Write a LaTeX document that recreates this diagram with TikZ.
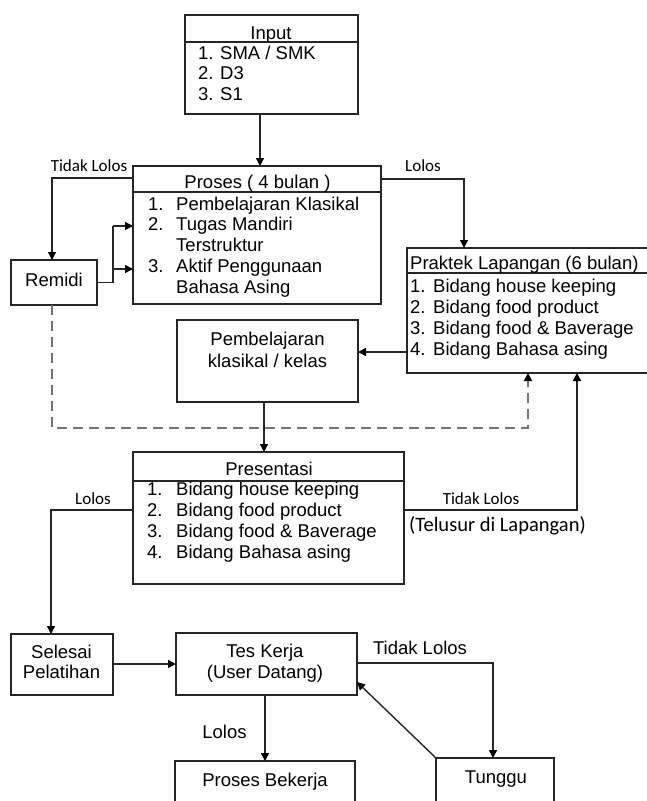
\documentclass[tikz,border=0pt]{standalone}
\usepackage{fontspec}
\setmainfont{Liberation Sans}
\newfontfamily\carl{Carlito}
\usetikzlibrary{arrows.meta}
\begin{document}
\begin{tikzpicture}[x=1pt,y=-1pt,
  box/.style={draw=black!85,line width=1.4pt,inner sep=0pt,outer sep=0pt,anchor=north west},
  ln/.style={draw=black!85,line width=1.4pt},
  arr/.style={ln,-{Triangle[length=8pt,width=8pt,color=black]}},
  dsh/.style={draw=black!55,line width=2.3pt,dash pattern=on 10pt off 6pt,-{Triangle[length=8pt,width=8pt,color=black]}},
  txt/.style={inner sep=0pt,font=\fontsize{18.5}{20.7}\selectfont},
  lbl/.style={inner sep=0pt,font=\carl\fontsize{17}{20}\selectfont},
]
\useasboundingbox (0,0) rectangle (647,801);
\clip (0,0) rectangle (647,801);

% boxes
\node[box,minimum width=173pt,minimum height=99pt] (inp) at (185,15) {};
\node[box,minimum width=248pt,minimum height=138pt] (pro) at (133,166) {};
\node[box,minimum width=86pt,minimum height=45pt] (rem) at (11,260) {};
\node[box,minimum width=250pt,minimum height=125pt] (pra) at (407,248) {};
\node[box,minimum width=181pt,minimum height=82pt] (pem) at (177,320) {};
\node[box,minimum width=271pt,minimum height=132pt] (pre) at (133,452) {};
\node[box,minimum width=102pt,minimum height=61pt] (sel) at (11,634) {};
\node[box,minimum width=181pt,minimum height=62pt] (tes) at (176,633) {};
\node[box,minimum width=180pt,minimum height=60pt] (pbk) at (175,761) {};
\node[box,minimum width=118pt,minimum height=60pt] (tun) at (436,758) {};

% dividers
\draw[ln] (inp.west |- 0,42) -- (inp.east |- 0,42);
\draw[ln] (pro.west |- 0,192) -- (pro.east |- 0,192);
\draw[ln] (pra.west |- 0,273) -- (pra.east |- 0,273);
\draw[ln] (pre.west |- 0,481) -- (pre.east |- 0,481);

% texts
\node[txt,anchor=base] (tinp) at (271,39) {Input};
\node[txt,anchor=base west] (linp) at (198,59) {\fontsize{18.5}{20.5}\selectfont\begin{tabular}[t]{@{}p{22pt}@{}l@{}}1.&SMA / SMK\\2.&D3\\3.&S1\end{tabular}};

\node[txt,anchor=base] (tpro) at (257.5,188) {Proses ( 4 bulan )};
\node[txt,anchor=base west] (lpro) at (148,210) {\fontsize{18.5}{20.75}\selectfont\begin{tabular}[t]{@{}p{28pt}@{}l@{}}1.&Pembelajaran Klasikal\\2.&Tugas Mandiri\\&Terstruktur\\3.&Aktif Penggunaan\\&Bahasa Asing\end{tabular}};

\node[txt,anchor=base west] (tpra) at (410,269) {Praktek Lapangan (6 bulan)};
\node[txt,anchor=base west] (lpra) at (410,292) {\fontsize{18.5}{21}\selectfont\begin{tabular}[t]{@{}p{23pt}@{}l@{}}1.&Bidang house keeping\\2.&Bidang food product\\3.&Bidang food \& Baverage\\4.&Bidang Bahasa asing\end{tabular}};

\node[txt,anchor=base] (tpem) at (267.5,345) {\fontsize{18.5}{22}\selectfont\begin{tabular}[t]{@{}c@{}}Pembelajaran\\klasikal / kelas\end{tabular}};

\node[txt,anchor=base] (tpre) at (269,475) {Presentasi};
\node[txt,anchor=base west] (lpre) at (147,495) {\fontsize{18.5}{21}\selectfont\begin{tabular}[t]{@{}p{29pt}@{}l@{}}1.&Bidang house keeping\\2.&Bidang food product\\3.&Bidang food \& Baverage\\4.&Bidang Bahasa asing\end{tabular}};

\node[txt,anchor=base] (trem) at (54,286) {Remidi};
\node[txt,anchor=base] (tsel) at (61.5,658) {\fontsize{18.5}{20}\selectfont\begin{tabular}[t]{@{}c@{}}Selesai\\Pelatihan\end{tabular}};
\node[txt,anchor=base] (ttes) at (265,657) {\fontsize{18.5}{21}\selectfont\begin{tabular}[t]{@{}c@{}}Tes Kerja\\(User Datang)\end{tabular}};
\node[txt,anchor=base] (tpbk) at (265,786) {Proses Bekerja};
\node[txt,anchor=base] (ttun) at (496,783) {Tunggu};

% labels
\node[lbl,anchor=base] (l1) at (89,171) {Tidak Lolos};
\node[lbl,anchor=base] (l2) at (423,171) {Lolos};
\node[lbl,anchor=base] (l3) at (93,504) {Lolos};
\node[lbl,anchor=base] (l4) at (481,504) {Tidak Lolos};
\node[lbl,font=\carl\fontsize{20.5}{24}\selectfont,anchor=base] (l5) at (497.5,531) {(Telusur di Lapangan)};
\node[txt,anchor=base] (l6) at (420,654) {Tidak Lolos};
\node[txt,anchor=base] (l7) at (224.5,738) {Lolos};

% connectors
\draw[arr] (inp.south -| 260,0) -- (pro.north -| 260,0);
\draw[arr] (pro.west |- 0,178) -| (rem.north -| 52,0);
\coordinate (rj) at (113,282.5);
\draw[ln] (rem.east) -- (rj) -- (rj |- 0,226);
\draw[arr] (rj |- 0,226) -- (pro.west |- 0,226);
\draw[arr] (rj |- 0,269) -- (pro.west |- 0,269);
\draw[arr] (pro.east |- 0,179) -| (pra.north -| 464,0);
\draw[arr] (pra.west |- 0,352) -- (pem.east |- 0,352);
\draw[arr] (pem.south -| 264,0) -- (pre.north -| 264,0);
\coordinate (d1) at (52,428);
\draw[dsh] (rem.south -| d1) -- (d1) -| (pra.south -| 528,0);
\draw[arr] (pre.east |- 0,510) -| (pra.south -| 577,0);
\draw[arr] (pre.west |- 0,510) -| (sel.north -| 51,0);
\draw[arr] (sel.east |- 0,664) -- (tes.west |- 0,664);
\draw[arr] (tes.south -| 265,0) -- (pbk.north -| 265,0);
\draw[arr] (tes.east |- 0,663) -| (tun.north -| 493,0);
\draw[arr] (tun.north west) -- (tes.east |- 0,682);
\end{tikzpicture}
\end{document}
